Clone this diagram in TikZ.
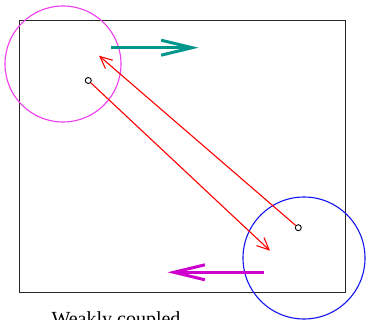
\documentclass[tikz,border=0pt]{standalone}
\usepackage{fontspec}
\setmainfont{Liberation Serif}
\usetikzlibrary{arrows.meta}
\definecolor{tealc}{RGB}{0,150,140}
\definecolor{magc}{RGB}{205,0,205}
\definecolor{ringm}{RGB}{240,60,240}
\definecolor{ringb}{RGB}{20,20,240}
\tikzset{
  dot/.style={circle,draw=black,line width=0.9pt,inner sep=0pt,minimum size=6pt},
  ring/.style={circle,line width=1.1pt,inner sep=0pt},
  redarrow/.style={red,line width=1.1pt,-{Straight Barb[length=12pt,width=11pt,line width=1.1pt]}},
  bigarrow/.style={line width=3pt,-{Straight Barb[length=31pt,width=15pt,line width=3pt]}},
}
\begin{document}
\begin{tikzpicture}[x=1pt,y=-1pt]
\useasboundingbox (0,0) rectangle (366,320);
\draw[line width=1.1pt,black!85] (19.5,20.5) rectangle (345.5,292.5);
\node[ring,draw=ringm,minimum size=116pt] (cm) at (63,64) {};
\node[ring,draw=ringb,minimum size=122pt] (cb) at (304,258) {};
\node[dot] (p1) at (88.3,80.5) {};
\node[dot] (p2) at (298.3,227.7) {};
\coordinate (t1) at (270,250.7);
\coordinate (t2) at (99,55.7);
\draw[redarrow] (p1) -- (t1);
\draw[redarrow] (p2) -- (t2);
\coordinate (a1) at (111,47.7);
\coordinate (a2) at (198.5,47.7);
\draw[bigarrow,tealc] (a1) -- (a2);
\coordinate (b1) at (264.3,272.3);
\coordinate (b2) at (167.5,272.3);
\draw[bigarrow,magc] (b1) -- (b2);
\node[anchor=base,font=\fontsize{20}{24}\selectfont,inner sep=0pt] (lbl) at (116,325) {Weakly coupled};
\end{tikzpicture}
\end{document}
